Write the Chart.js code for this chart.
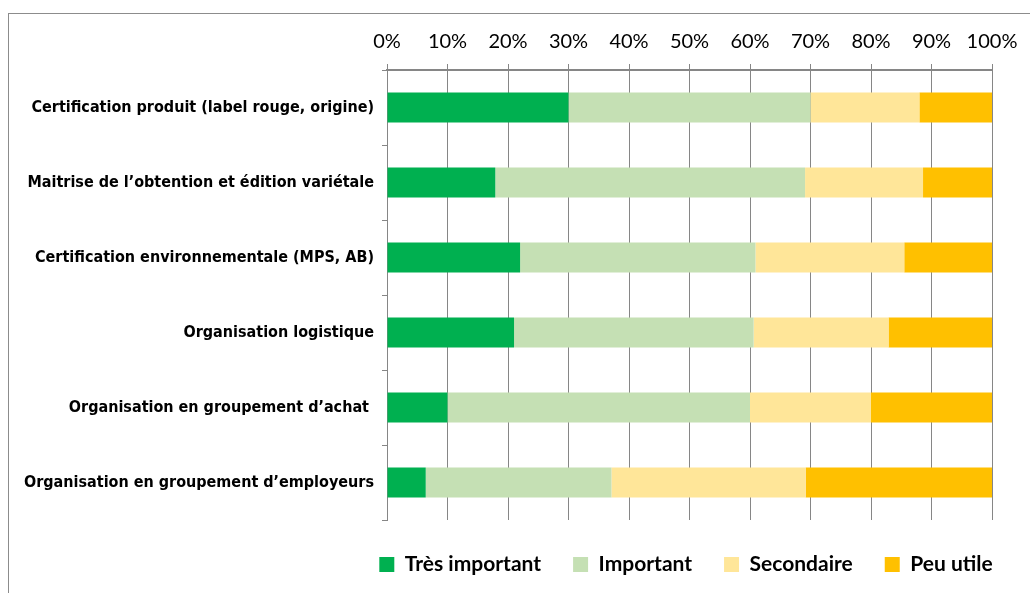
<!DOCTYPE html>
<html lang="fr">
<head>
    <meta charset="UTF-8">
    <title>Importance des leviers</title>
    <script src="https://cdn.jsdelivr.net/npm/chart.js@4/dist/chart.umd.min.js"></script>
    <style>
        body {
            margin: 0;
            overflow: hidden;
            background-color: white;
        }

        #frame {
            position: absolute;
            left: 8px;
            top: 13px;
            width: 1100px;
            height: 700px;
            border-left: 1px solid #8c8c8c;
            border-top: 1px solid #8c8c8c;
        }

        #wrap {
            position: absolute;
            left: 0;
            top: 0;
            width: 1030px;
            height: 583px;
        }
    </style>
</head>
<body>
    <div id="frame"></div>
    <div id="wrap"><canvas id="chart"></canvas></div>

    <script>
        // Data (shares in %)
        const categories = [
            'Certification produit (label rouge, origine)',
            'Maitrise de l\u2019obtention et édition variétale',
            'Certification environnementale (MPS, AB)',
            'Organisation logistique',
            'Organisation en groupement d\u2019achat ',
            'Organisation en groupement d\u2019employeurs'
        ];
        const tresImportant = [30, 17.9, 22, 21, 10, 6.4];
        const important = [40, 51.2, 38.9, 39.6, 50, 30.7];
        const secondaire = [18, 19.5, 24.6, 22.3, 20, 32.1];
        const peuUtile = [12, 11.4, 14.5, 17.1, 20, 30.8];

        const seriesNames = ['Très important', 'Important', 'Secondaire', 'Peu utile'];
        const seriesColors = ['#00B050', '#C5E0B4', '#FFE699', '#FFC000'];

        const font = "Lato, 'Liberation Sans', sans-serif";
        const condensed = "'DejaVu Sans Condensed', 'Liberation Sans', sans-serif";
        const axisGrey = '#868686';

        const values = [tresImportant, important, secondaire, peuUtile];
        const datasets = seriesNames.map((name, i) => ({
            label: name,
            data: values[i],
            backgroundColor: seriesColors[i],
            borderWidth: 0,
            barPercentage: 0.4,
            categoryPercentage: 1
        }));

        // legend sits under the plot area in the original, not centred on the canvas
        const legendShift = {
            id: 'legendShift',
            afterLayout(chart) {
                const lg = chart.legend;
                const area = chart.chartArea;
                lg.left = area.left - 47;
                lg.right = area.right + 40;
                lg.top += 2;
                lg.bottom += 2;
            }
        };

        new Chart(document.getElementById('chart'), {
            type: 'bar',
            data: { labels: categories, datasets: datasets },
            plugins: [legendShift],
            options: {
                indexAxis: 'y',
                responsive: true,
                maintainAspectRatio: false,
                animation: false,
                layout: {
                    padding: { left: 10, right: 38, top: 20, bottom: 0 }
                },
                plugins: {
                    tooltip: { enabled: false },
                    legend: {
                        position: 'bottom',
                        labels: {
                            boxWidth: 15,
                            boxHeight: 15,
                            padding: 32,
                            color: '#000',
                            font: { family: font, size: 21, weight: 'bold' }
                        }
                    }
                },
                scales: {
                    x: {
                        position: 'top',
                        stacked: true,
                        min: 0,
                        max: 100,
                        ticks: {
                            stepSize: 10,
                            padding: 10,
                            color: '#000',
                            font: { family: font, size: 20 },
                            callback: v => v + '%'
                        },
                        grid: { color: axisGrey, lineWidth: 1, tickLength: 6 },
                        border: { color: axisGrey, width: 2 }
                    },
                    y: {
                        stacked: true,
                        afterFit: scale => { scale.width = 377; },
                        ticks: {
                            padding: 8,
                            color: '#000',
                            font: { family: condensed, size: 16, weight: 'bold' }
                        },
                        grid: { offset: true, drawOnChartArea: false, tickLength: 5, color: axisGrey },
                        border: { color: axisGrey, width: 1 }
                    }
                }
            }
        });
    </script>
</body>
</html>
